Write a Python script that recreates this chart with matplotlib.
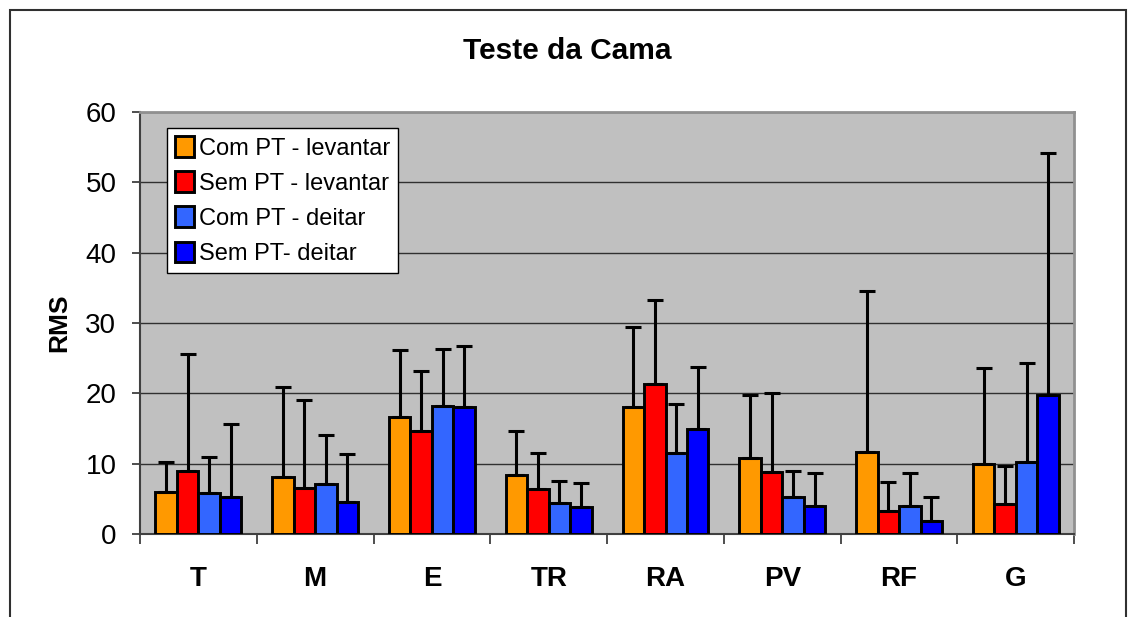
import numpy as np
import matplotlib
matplotlib.use("Agg")
import matplotlib.pyplot as plt
from matplotlib.patches import Rectangle

plt.rcParams['font.family'] = ['Liberation Sans', 'DejaVu Sans']

musculos = ["T", "M", "E", "TR", "RA", "PV", "RF", "G"]
series = ["Com PT - levantar", "Sem PT - levantar", "Com PT - deitar", "Sem PT- deitar"]
cores = ["#FF9900", "#FF0000", "#3366FF", "#0000FF"]

# medias (RMS)
com_lev = [6.0, 8.1, 16.7, 8.4, 18.0, 10.8, 11.6, 10.0]
sem_lev = [9.0, 6.6, 14.7, 6.4, 21.3, 8.8, 3.3, 4.3]
com_dei = [5.9, 7.1, 18.2, 4.4, 11.5, 5.2, 4.0, 10.3]
sem_dei = [5.3, 4.5, 18.0, 3.9, 14.9, 4.0, 1.9, 19.7]
# desvio padrao
dp_com_lev = [4.3, 12.8, 9.5, 6.3, 11.5, 8.9, 23.0, 13.6]
dp_sem_lev = [16.6, 12.4, 8.5, 5.1, 12.0, 11.2, 4.05, 5.3]
dp_com_dei = [5.1, 7.0, 8.1, 3.1, 7.0, 3.8, 4.7, 14.0]
dp_sem_dei = [10.4, 6.9, 8.7, 3.4, 8.9, 4.7, 3.3, 34.5]

medias = [com_lev, sem_lev, com_dei, sem_dei]
desvios = [dp_com_lev, dp_sem_lev, dp_com_dei, dp_sem_dei]

fig = plt.figure(figsize=(11.29, 6.17), dpi=100)
ax = fig.add_axes([0.124, 0.1345, 0.8275, 0.684])

# moldura externa
fig.patches.append(Rectangle((0.009, -0.1), 0.988, 1.084, transform=fig.transFigure,
                             fill=False, edgecolor="#303030", linewidth=1.5))

x = np.arange(len(musculos))
w = 0.184
for i in range(4):
    pos = x + (i - 1.5) * w
    ax.bar(pos, medias[i], w, color=cores[i], edgecolor="black", linewidth=2.1,
           label=series[i], zorder=3)
    ax.errorbar(pos, medias[i], yerr=[np.zeros(len(musculos)), desvios[i]],
                fmt="none", ecolor="black", elinewidth=2.2, capsize=5.6,
                capthick=2.2, zorder=4)

ax.set_facecolor("#C0C0C0")
ax.set_xlim(-0.5, len(musculos) - 0.5)
ax.set_ylim(0, 60)
ax.set_yticks(range(0, 61, 10))
ax.yaxis.grid(True, color="#303030", linewidth=1, zorder=1)
ax.set_axisbelow(True)

ax.set_xticks(x)
ax.set_xticklabels(musculos, fontsize=20, fontweight="bold")
ax.set_xticks(np.arange(-0.5, len(musculos)), minor=True)
ax.tick_params(axis="x", which="major", length=0, pad=23)
ax.tick_params(axis="x", which="minor", length=7, width=1.2, color="#303030")
ax.tick_params(axis="y", length=6, width=1.2, color="#303030", labelsize=20, pad=11)

ax.spines["left"].set_color("#404040")
ax.spines["bottom"].set_color("#404040")
ax.spines["left"].set_linewidth(1.5)
ax.spines["bottom"].set_linewidth(1.5)
ax.spines["top"].set_color("#909090")
ax.spines["right"].set_color("#909090")
ax.spines["top"].set_linewidth(2)
ax.spines["right"].set_linewidth(2)

ax.set_ylabel("RMS", fontsize=19, fontweight="bold", labelpad=10)
fig.text(0.502, 0.918, "Teste da Cama", ha="center", va="center",
         fontsize=21.5, fontweight="bold")

leg = ax.legend(loc="upper left", bbox_to_anchor=(0.029, 0.962), borderaxespad=0,
                fontsize=17, fancybox=False, framealpha=1, edgecolor="black",
                handlelength=0.8, handleheight=0.95, handletextpad=0.2,
                labelspacing=0.5, borderpad=0.35)
leg.get_frame().set_linewidth(1)

fig.savefig("out.png", dpi=100)
